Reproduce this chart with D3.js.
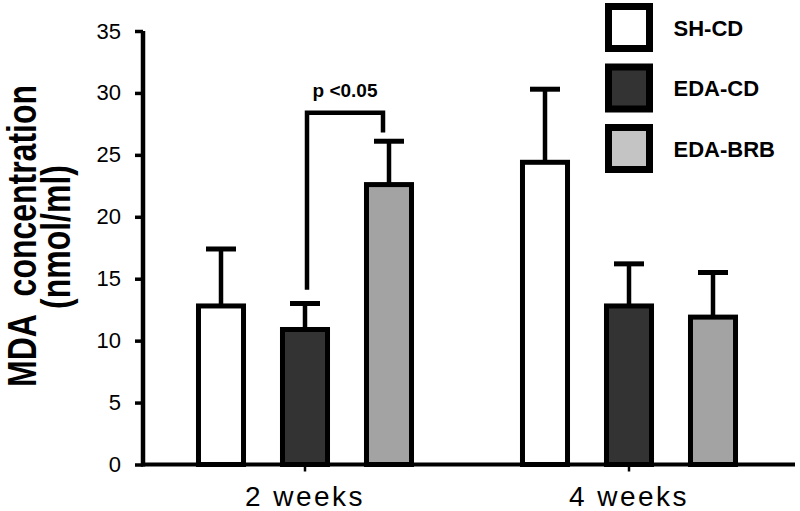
<!DOCTYPE html>
<html>
<head>
<meta charset="utf-8">
<script src="https://cdn.jsdelivr.net/npm/d3@7.9.0/dist/d3.min.js"></script>
<style>
  body { margin: 0; background: #fff; }
  svg { display: block; font-family: "Liberation Sans", Arial, sans-serif; }
</style>
</head>
<body>
<svg id="chart" width="800" height="511"></svg>
<script>
// data
const groups = ["2 weeks", "4 weeks"];
const series = ["SH-CD", "EDA-CD", "EDA-BRB"];
const means = [
  [12.8, 10.9, 22.6],   // 2 weeks
  [24.4, 12.8, 11.9]    // 4 weeks
];
const errors = [
  [4.6, 2.1, 3.5],
  [5.9, 3.4, 3.6]
];
const yTicks = [0, 5, 10, 15, 20, 25, 30, 35];
const barColors = ["#ffffff", "#333333", "#a3a3a3"];
const legendColors = ["#ffffff", "#333333", "#c4c4c4"];
// significance bracket: group, from bar, to bar, top, left foot, right foot
const bracket = { group: "2 weeks", from: "EDA-CD", to: "EDA-BRB", top: 28.4, left: 14.1, right: 26.8, label: "p <0.05" };

const svg = d3.select("#chart");

const y = d3.scaleLinear().domain([0, 35]).range([464.5, 31]);
const x0 = d3.scaleBand().domain(groups).range([143, 791]).padding(0);
const x1 = d3.scaleBand().domain(series).range([-126, 126])
  .paddingInner(0.464).paddingOuter(0.232);

// bars
const rows = [];
groups.forEach((g, gi) => {
  series.forEach((s, si) => {
    rows.push({ group: g, series: s, si, value: means[gi][si], err: errors[gi][si] });
  });
});

const barX = d => x0(d.group) + x0.bandwidth() / 2 + x1(d.series);
const barMid = d => barX(d) + x1.bandwidth() / 2;

// error bars first (drawn behind bar outline)
svg.append("g").selectAll("line")
  .data(rows)
  .join("line")
  .attr("x1", barMid).attr("x2", barMid)
  .attr("y1", d => y(d.value)).attr("y2", d => y(d.value + d.err))
  .attr("stroke", "#000").attr("stroke-width", 4.5);

svg.append("g").selectAll("line")
  .data(rows)
  .join("line")
  .attr("x1", d => barMid(d) - 15).attr("x2", d => barMid(d) + 15)
  .attr("y1", d => y(d.value + d.err)).attr("y2", d => y(d.value + d.err))
  .attr("stroke", "#000").attr("stroke-width", 5);

svg.append("g").selectAll("rect")
  .data(rows)
  .join("rect")
  .attr("x", barX)
  .attr("y", d => y(d.value))
  .attr("width", x1.bandwidth())
  .attr("height", d => y(0) - y(d.value))
  .attr("fill", d => barColors[d.si])
  .attr("stroke", "#000")
  .attr("stroke-width", 5);

// y axis
const yAxis = svg.append("g")
  .attr("transform", "translate(143,0)")
  .call(d3.axisLeft(y).tickValues(yTicks).tickSize(8).tickPadding(14));
yAxis.select(".domain").attr("stroke-width", 4.5).attr("d", `M0,${y(35)}V${y(0) + 2}`);
yAxis.selectAll(".tick line").attr("stroke-width", 3.5);
yAxis.selectAll(".tick text").attr("font-size", 22).attr("fill", "#000");

// x axis
const xAxis = svg.append("g")
  .attr("transform", `translate(0,${y(0)})`)
  .call(d3.axisBottom(x0).tickSize(7).tickPadding(14));
xAxis.select(".domain").attr("stroke-width", 4).attr("d", "M141,0H795");
xAxis.selectAll(".tick line").attr("stroke-width", 2.5);
xAxis.selectAll(".tick text")
  .attr("font-size", 28).attr("letter-spacing", 2.5).attr("fill", "#000")
  .attr("dy", "0.72em");

// y title, condensed as in the figure
const titleLines = [
  { text: "MDA\u00a0\u00a0concentration", x: 36, y: 236 },
  { text: "(nmol/ml)", x: 70, y: 237 }
];
svg.append("g").selectAll("text")
  .data(titleLines)
  .join("text")
  .attr("transform", d => `translate(${d.x},${d.y}) rotate(-90) scale(0.78,1)`)
  .attr("text-anchor", "middle")
  .attr("font-size", 41)
  .attr("font-weight", "bold")
  .text(d => d.text);

// significance bracket
const bx = s => x0(bracket.group) + x0.bandwidth() / 2 + x1(s) + x1.bandwidth() / 2;
const bl = bx(bracket.from) + 2, br = bx(bracket.to) - 6;
svg.append("path")
  .attr("d", `M${bl},${y(bracket.left)}V${y(bracket.top)}H${br}V${y(bracket.right)}`)
  .attr("fill", "none").attr("stroke", "#000").attr("stroke-width", 4.5);
svg.append("text")
  .attr("x", (bl + br) / 2).attr("y", y(bracket.top) - 16)
  .attr("text-anchor", "middle")
  .attr("font-size", 19).attr("font-weight", "bold")
  .text(bracket.label);

// legend
const legend = svg.append("g").selectAll("g")
  .data(series)
  .join("g")
  .attr("transform", (d, i) => `translate(608.5,${6.5 + i * 60.5})`);
legend.append("rect")
  .attr("width", 41).attr("height", 42)
  .attr("fill", (d, i) => legendColors[i])
  .attr("stroke", "#000").attr("stroke-width", 7);
legend.append("text")
  .attr("x", 65).attr("y", 29)
  .attr("font-size", 22).attr("font-weight", "bold")
  .text(d => d);
</script>
</body>
</html>
